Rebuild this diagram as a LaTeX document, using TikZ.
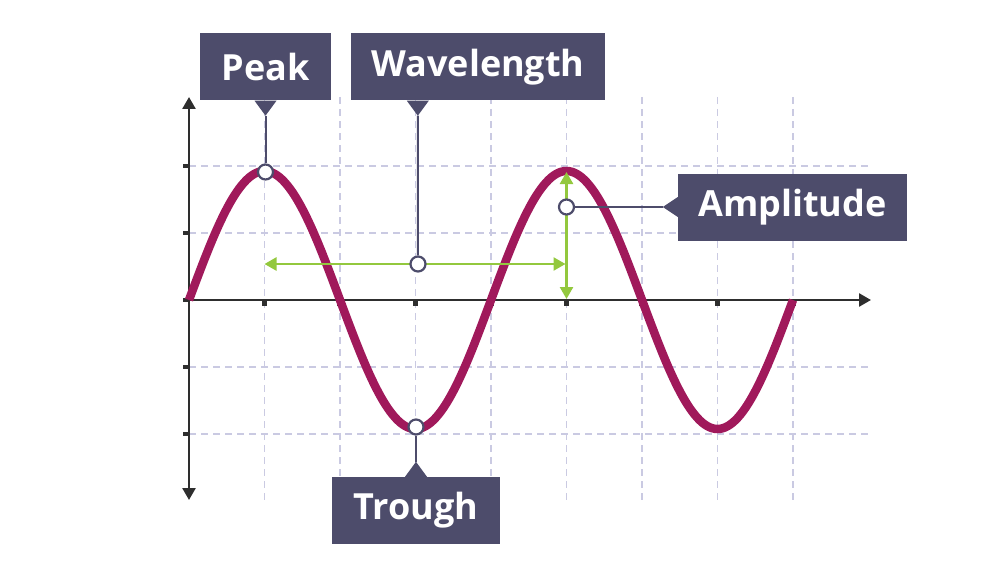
\documentclass[tikz,border=0pt]{standalone}
\usepackage{fontspec}
\setmainfont{Open Sans}
\usetikzlibrary{arrows.meta}
\definecolor{boxc}{HTML}{4D4C6B}
\definecolor{wavec}{HTML}{A0195B}
\definecolor{gridc}{HTML}{CACAE2}
\definecolor{axisc}{HTML}{2E2E2E}
\definecolor{greenc}{HTML}{93C83E}
\begin{document}
\begin{tikzpicture}[x=1pt,y=-1pt,
  gridline/.style={gridc, line width=1.5pt, dash pattern=on 7pt off 5pt},
  axisline/.style={axisc, line width=2.6pt},
  axtip/.style={-{Triangle[length=12pt,width=13pt]}},
  greenarrow/.style={greenc, line width=2.5pt, {Triangle[length=12pt,width=13pt]}-{Triangle[length=12pt,width=13pt]}},
  labelbox/.style={fill=boxc, text=white, inner sep=0pt, minimum height=67pt,
     font=\fontsize{36pt}{36pt}\selectfont\bfseries},
  marker/.style={circle, draw=boxc, fill=white, line width=2.2pt, minimum size=15pt, inner sep=0pt},
  pointer/.style={boxc, line width=2pt}]
\useasboundingbox (0,0) rectangle (1008,567);
% grid
\foreach \i in {1,...,8}
  \draw[gridline] ({189+75.5*\i},97) -- ({189+75.5*\i},500);
\foreach \y in {166,233,367,434}
  \draw[gridline] (189,\y) -- (870,\y);
% axes
\draw[axisline, {Triangle[length=12pt,width=13pt]}-{Triangle[length=12pt,width=13pt]}] (189,500) -- (189,97);
\draw[axisline, axtip] (189,300) -- (871,300);
\foreach \y in {166,233,300,367,434}
  \fill[axisc] (183,\y-2.4) rectangle (189,\y+2.4);
\foreach \i in {1,...,8}
  \fill[axisc] ({189+75.5*\i-2.6},300) rectangle ({189+75.5*\i+2.6},305.5);
% wave
\draw[wavec, line width=8.5pt] plot[domain=0:604, samples=241, smooth] ({189+\x},{300-129*sin(\x/302*360)});
% green arrows
\draw[greenarrow] (264.5,264) -- (565.5,264);
\draw[greenarrow] (566.5,172) -- (566.5,299);
% labels
\node[labelbox, minimum width=131pt] (peak) at (265.5,67) {Peak};
\node[labelbox, minimum width=254pt] (wl) at (478,67) {Wavelength};
\node[labelbox, minimum width=229pt] (amp) at (792.5,207) {Amplitude};
\node[labelbox, minimum width=168pt] (trough) at (416,510.5) {Trough};
% pointer tips
\coordinate (wlbase) at ([xshift=67pt]wl.south west);
\coordinate (peaktip) at ([yshift=-15pt]peak.south);
\coordinate (wltip) at ([yshift=-15pt]wlbase);
\coordinate (amptip) at ([xshift=-15pt]amp.west);
\coordinate (troughtip) at ([yshift=15pt]trough.north);
\fill[boxc] ([xshift=-11pt]peak.south) -- (peaktip) -- ([xshift=11pt]peak.south) -- cycle;
\fill[boxc] ([xshift=-11pt]wlbase) -- (wltip) -- ([xshift=11pt]wlbase) -- cycle;
\fill[boxc] ([yshift=-10pt]amp.west) -- (amptip) -- ([yshift=10pt]amp.west) -- cycle;
\fill[boxc] ([xshift=-11pt]trough.north) -- (troughtip) -- ([xshift=11pt]trough.north) -- cycle;
% markers
\node[marker] (peakpt) at (265.5,172) {};
\node[marker] (wlpt) at (418,264) {};
\node[marker] (amppt) at (566.5,207) {};
\node[marker] (troughpt) at (416,427) {};
% pointer lines
\draw[pointer] (peaktip) -- (peakpt);
\draw[pointer] (wltip) -- (wlpt);
\draw[pointer] (amptip) -- (amppt);
\draw[pointer] (troughtip) -- (troughpt);
\end{tikzpicture}
\end{document}
